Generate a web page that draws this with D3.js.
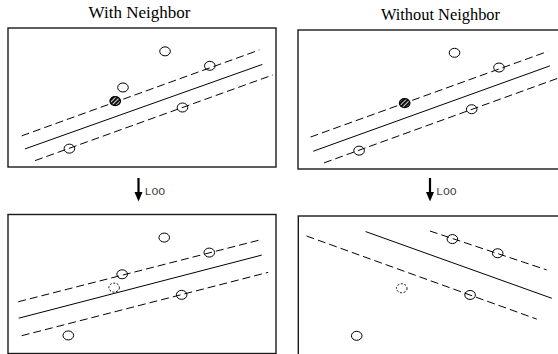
<!DOCTYPE html>
<html><head><meta charset="utf-8">
<script src="https://cdn.jsdelivr.net/npm/d3@7"></script>
<style>body{margin:0;background:#fff}svg{display:block}
.title{font-family:"Liberation Serif","DejaVu Serif",serif}
.loo{font-family:"Liberation Mono","DejaVu Sans Mono",monospace}
</style>
</head><body><div id="chart"></div>
<script>
// ---- data (abstract units: x 0..10, y 0..5 inside each panel) ----
const panelTitles = ["With Neighbor", "Without Neighbor"];
const arrowLabels = ["LOO", "LOO"];

// points: [x, y, kind]   kind: open | hatched | removed
const pointsWithBefore = [[5.86,4.16,"open"],[7.53,3.64,"open"],[4.29,2.86,"open"],[4.00,2.37,"hatched"],[6.51,2.14,"open"],[2.29,0.66,"open"]];
const pointsWithoutBefore = [[5.84,4.18,"open"],[7.50,3.65,"open"],[3.98,2.37,"hatched"],[6.48,2.15,"open"],[2.28,0.66,"open"]];
const pointsWithAfter = [[5.83,4.17,"open"],[7.51,3.63,"open"],[4.26,2.85,"open"],[3.96,2.37,"removed"],[6.48,2.11,"open"],[2.25,0.65,"open"]];
const pointsWithoutAfter = [[5.75,4.17,"open"],[7.44,3.66,"open"],[3.86,2.40,"removed"],[6.41,2.16,"open"],[2.18,0.69,"open"]];

// lines: [x1, y1, x2, y2, kind]  kind: margin (dashed) | boundary (solid)
const linesWithBefore = [[0.51,1.12,9.38,4.21,"margin"],[0.63,0.65,9.49,3.69,"boundary"],[1.01,0.23,9.88,3.31,"margin"]];
const linesWithoutBefore = [[0.47,1.15,9.32,4.23,"margin"],[0.57,0.64,9.40,3.71,"boundary"],[0.97,0.22,9.80,3.30,"margin"]];
const linesWithAfter = [[0.38,1.86,9.38,4.08,"margin"],[0.40,1.27,9.47,3.54,"boundary"],[0.51,0.64,9.71,2.92,"margin"]];
const linesWithoutAfter = [[4.91,4.46,9.27,3.06,"margin"],[2.51,4.44,9.46,2.04,"boundary"],[0.31,4.28,8.90,1.29,"margin"]];

// ---- layout ----
const W = 558, H = 354;
const PW = 268, PH = 139;
const panels = [
  {left: 8, top: 28, pts: pointsWithBefore, lines: linesWithBefore},
  {left: 298, top: 30, pts: pointsWithoutBefore, lines: linesWithoutBefore},
  {left: 8, top: 214.5, pts: pointsWithAfter, lines: linesWithAfter},
  {left: 298.3, top: 216, pts: pointsWithoutAfter, lines: linesWithoutAfter}
];

const svg = d3.select("#chart").append("svg").attr("width", W).attr("height", H);

const defs = svg.append("defs");
const pat = defs.append("pattern").attr("id","hatch").attr("patternUnits","userSpaceOnUse")
  .attr("width",3).attr("height",3).attr("patternTransform","rotate(45)");
pat.append("rect").attr("width",3).attr("height",3).attr("fill","#111");
pat.append("line").attr("x1",0).attr("y1",0).attr("x2",0).attr("y2",3)
  .attr("stroke","#fff").attr("stroke-width",1.6);

// titles
const titleX = [139.5, 440.5];
const titleSize = [17, 16.4];
panelTitles.forEach((t,i) => {
  svg.append("text").attr("class","title").attr("x", titleX[i]).attr("y", i === 0 ? 18 : 20)
    .attr("text-anchor","middle")
    .attr("font-size", titleSize[i]).attr("fill","#000").text(t);
});

// arrows
const arrowX = [138.5, 430];
arrowLabels.forEach((t,i) => {
  const g = svg.append("g");
  const x = arrowX[i];
  g.append("line").attr("x1",x).attr("x2",x).attr("y1",178).attr("y2",193)
    .attr("stroke","#000").attr("stroke-width",2.2);
  g.append("path").attr("d", d3.line()([[x-4,192],[x+4,192],[x,201.5]])+"Z").attr("fill","#000");
  g.append("text").attr("class","loo").attr("x", x+6).attr("y", 195)
    .attr("font-size", 11.5)
    .attr("fill","#444").text(t);
});

panels.forEach(p => {
  const xs = d3.scaleLinear().domain([0,10]).range([p.left, p.left + PW]);
  const ys = d3.scaleLinear().domain([0,5]).range([p.top + PH, p.top]);
  const g = svg.append("g");
  g.append("rect").attr("x", p.left).attr("y", p.top).attr("width", PW).attr("height", PH)
    .attr("fill","#fff").attr("stroke","#1a1a1a").attr("stroke-width",1.4);
  g.selectAll("line.l").data(p.lines).join("line")
    .attr("x1", d => xs(d[0])).attr("y1", d => ys(d[1]))
    .attr("x2", d => xs(d[2])).attr("y2", d => ys(d[3]))
    .attr("stroke","#000").attr("stroke-width",1)
    .attr("stroke-dasharray", d => d[4] === "margin" ? "8,4" : null);
  g.selectAll("ellipse").data(p.pts).join("ellipse")
    .attr("cx", d => xs(d[0])).attr("cy", d => ys(d[1]))
    .attr("rx", 5.3).attr("ry", 4.5)
    .attr("fill", d => d[2] === "hatched" ? "url(#hatch)" : "none")
    .attr("stroke", "#000")
    .attr("stroke-width", d => d[2] === "hatched" ? 1.2 : 1)
    .attr("stroke-dasharray", d => d[2] === "removed" ? "2,1.6" : null);
});
</script>
</body></html>
